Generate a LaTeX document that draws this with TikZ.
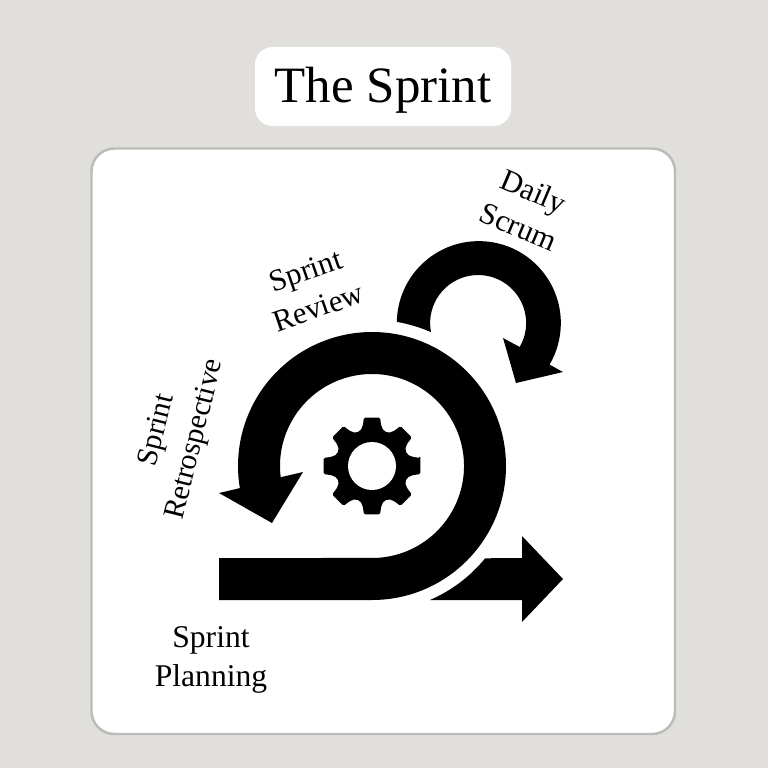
\documentclass[tikz,border=0pt]{standalone}
\usepackage{fontspec}
\setmainfont{Liberation Serif}
\definecolor{bggray}{RGB}{224, 223, 219}
\definecolor{panelgray}{RGB}{187, 187, 185}
\usetikzlibrary{positioning}
\tikzset{
  phaselabel/.style={align=center, font=\fontsize{17.5}{22}\selectfont, text=black},
}

\begin{document}
\begin{tikzpicture}[x=0.02cm, y=-0.02cm]
  \useasboundingbox (0, 0) rectangle (768, 768);
  \fill[bggray] (0, 0) rectangle (768, 768);

  % === title and panel ===
  \fill[white, rounded corners=10pt] (255, 47) rectangle (511, 126);
  \node[font=\fontsize{29}{36}\selectfont] (title) at (383, 90) {The Sprint};
  \draw[panelgray, line width=1.4pt, fill=white, rounded corners=13pt] (91.5, 148.5) rectangle (675, 734);

  % === big loop ===
  \fill (219, 558) -- (219, 600) -- (372, 600)
    arc[start angle=90, end angle=-189.5, radius=134]
    -- (219, 493) -- (272, 523) -- (303, 472) -- (280.7, 477.2)
    arc[start angle=-187, end angle=90, radius=92] -- cycle;

  % === small loop ===
  \fill (396.85, 322.13)
    arc[start angle=180.7, end angle=390.4, radius=82]
    -- (563, 372) -- (516, 383) -- (503, 338) -- (519.7, 347)
    arc[start angle=390, end angle=169, radius=48]
    arc[start angle=-66.2, end angle=-80.2, radius=146] -- cycle;

  % === exit arrow ===
  \fill (430, 600) arc[start angle=66.6, end angle=39.2, radius=146]
    -- (522, 558) -- (522, 536) -- (563, 579) -- (522, 622) -- (522, 600) -- cycle;

  % === gear ===
  \begin{scope}[shift={(372, 466)}]
    \fill[rounded corners=0.8pt] (-9.5:49)
      \foreach \a in {0, 45, ..., 315} {
        -- (\a-9.5:49) -- (\a+9.5:49) -- (\a+12:43)
        .. controls (\a+17:35.5) and (\a+28:35.5) .. (\a+33:43)
      } -- cycle;
    \fill[white] (0, 0) circle[radius=24];
  \end{scope}

  % === labels ===
  \node[phaselabel, rotate=-23] (daily) at (526, 209) {Daily\\Scrum};
  \node[phaselabel, rotate=19] (review) at (312, 289) {Sprint\\Review};
  \node[phaselabel, rotate=76, font=\fontsize{17}{22}\selectfont] (retro) at (177, 435) {Sprint\\Retrospective};
  \node[phaselabel, font=\fontsize{18}{22}\selectfont] (planning) at (211, 660) {Sprint\\Planning};
\end{tikzpicture}
\end{document}
